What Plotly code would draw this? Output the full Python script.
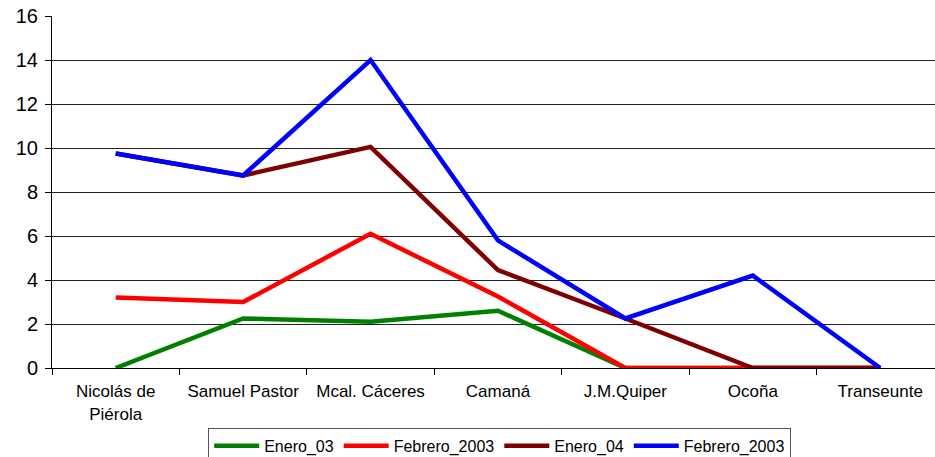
import plotly.graph_objects as go

# Categories along the x axis
categorias = ["Nicolás de<br>Piérola", "Samuel Pastor", "Mcal. Cáceres", "Camaná",
              "J.M.Quiper", "Ocoña", "Transeunte"]

# Series values
enero_03 = [0, 2.25, 2.1, 2.6, 0, 0, 0]
febrero_2003_a = [3.2, 3.0, 6.1, 3.25, 0, 0, 0]
enero_04 = [9.75, 8.75, 10.05, 4.45, 2.25, 0, 0]
febrero_2003_b = [9.75, 8.75, 14.0, 5.8, 2.25, 4.2, 0]

y_ticks = [0, 2, 4, 6, 8, 10, 12, 14, 16]

series = [
    ("Enero_03", enero_03, "#008000"),
    ("Febrero_2003", febrero_2003_a, "#FF0000"),
    ("Enero_04", enero_04, "#800000"),
    ("Febrero_2003", febrero_2003_b, "#0000FF"),
]

fig = go.Figure()
for nombre, valores, color in series:
    fig.add_trace(go.Scatter(
        x=categorias, y=valores, name=nombre, mode="lines",
        line=dict(color=color, width=4.5),
    ))

font_family = "Liberation Sans, Arial, sans-serif"

fig.update_layout(
    width=935, height=457,
    margin=dict(l=52, r=0, t=16, b=89, autoexpand=False),
    paper_bgcolor="white", plot_bgcolor="white",
    font=dict(family=font_family, color="black"),
    showlegend=True,
    legend=dict(
        orientation="h", x=0.507, xanchor="center", y=-0.17, yanchor="top",
        bordercolor="#555", borderwidth=1, font=dict(size=16, family=font_family),
        itemwidth=45, tracegroupgap=0,
    ),
)

fig.update_xaxes(
    type="category", range=[-0.5, 6.43], tickson="boundaries",
    ticks="outside", ticklen=6, tickcolor="black",
    showline=True, linecolor="black", linewidth=1,
    showgrid=False, tickfont=dict(size=17), ticklabelstandoff=8, fixedrange=True,
)
fig.update_yaxes(
    range=[0, 16], tickvals=y_ticks, ticks="outside", ticklen=6, tickcolor="black",
    showline=True, linecolor="black", linewidth=1,
    showgrid=True, gridcolor="#222", gridwidth=1, zeroline=False,
    tickfont=dict(size=20), ticklabelstandoff=3,
)

fig.write_html("out.html")
